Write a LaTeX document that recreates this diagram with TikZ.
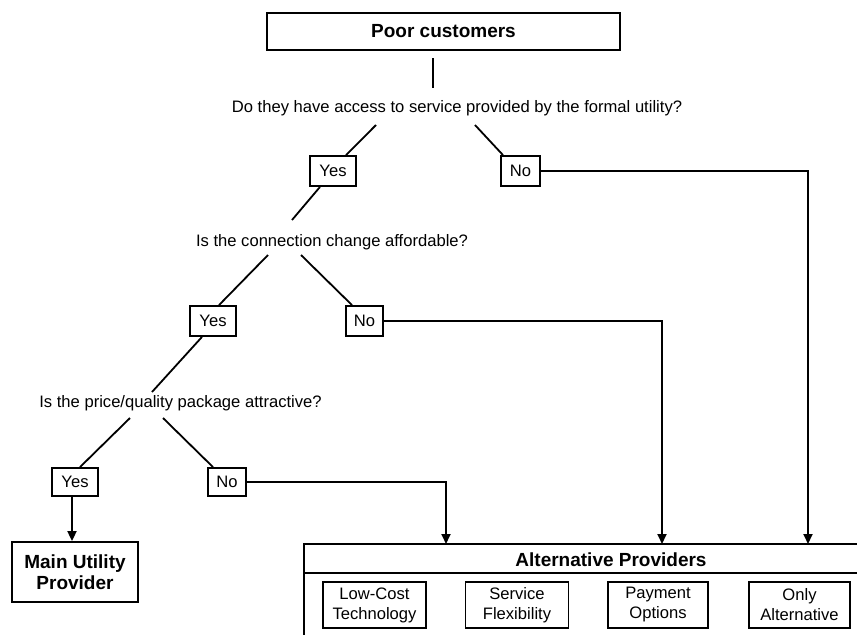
\documentclass[tikz,border=0pt]{standalone}
\usepackage{fontspec}
\setmainfont{Liberation Sans}
\usetikzlibrary{arrows.meta}
\tikzset{
  every path/.style={line width=1.8pt},
  txt/.style={inner sep=0pt, font=\fontsize{16.6}{20.5}\selectfont},
  btxt/.style={inner sep=0pt, font=\bfseries\fontsize{19}{21}\selectfont, align=center},
  answer/.style={draw, line width=1.8pt, inner sep=0pt, minimum height=30pt,
                 font=\fontsize{16.6}{20.5}\selectfont},
  subbox/.style={draw, line width=1.8pt, inner sep=0pt, minimum width=103pt,
                 minimum height=46pt, align=center, font=\fontsize{16.6}{20}\selectfont},
  arr/.style={-{Triangle[length=10pt,width=9pt]}},
}
\begin{document}
\begin{tikzpicture}[x=1pt,y=-1pt]
\useasboundingbox (0,0) rectangle (857,635);

% top box and the three questions
\node[draw, line width=1.8pt, minimum width=353pt, minimum height=37pt, btxt] (poor) at (443.5,31.5) {Poor customers};
\node[txt] (q1) at (457,108) {Do they have access to service provided by the formal utility?};
\node[txt] (q2) at (332,242) {Is the connection change affordable?};
\node[txt] (q3) at (180.5,403) {Is the price/quality package attractive?};

% answers
\node[answer, minimum width=46pt] (yes1) at (333,171) {Yes};
\node[answer, minimum width=39pt] (no1) at (520.5,171) {No};
\node[answer, minimum width=46pt] (yes2) at (213,321) {Yes};
\node[answer, minimum width=37pt] (no2) at (364.5,321) {No};
\node[answer, minimum width=46pt, minimum height=28pt] (yes3) at (75,482) {Yes};
\node[answer, minimum width=38pt, minimum height=28pt] (no3) at (227,482) {No};

% main utility provider
\node[draw, line width=1.8pt, minimum width=126pt, minimum height=60pt, btxt] (main) at (75,572) {Main Utility\\Provider};

% alternative providers panel
\coordinate (altTL) at (304,544);
\coordinate (altTR) at (857,544);
\coordinate (altBL) at (304,635);
\coordinate (altDL) at (304,573);
\coordinate (altDR) at (857,573);
\draw (altTR) -- (altTL) -- (altBL);
\draw (altDL) -- (altDR);
\node[btxt] (alt) at (611,560) {Alternative Providers};
\node[subbox] (s1) at (374.5,605) {Low-Cost\\Technology};
\node[subbox] (s2) at (517,605) {Service\\Flexibility};
\node[subbox, minimum width=100pt] (s3) at (658,605) {Payment\\Options};
\node[subbox, minimum width=101pt] (s4) at (799.5,605) {Only\\Alternative};

% entry points on the panel
\coordinate (inA) at (446,544);
\coordinate (inB) at (662,544);
\coordinate (inC) at (808,544);

% free ends of the branch lines
\coordinate (p0a) at (433,58);
\coordinate (p0b) at (433,88);
\coordinate (q1L) at (376,125);
\coordinate (q1R) at (475,125);
\coordinate (q2T) at (292,220);
\coordinate (q2L) at (268,255);
\coordinate (q2R) at (301,255);
\coordinate (q3T) at (152,392);
\coordinate (q3L) at (130,418);
\coordinate (q3R) at (163,418);

% connectors
\draw (p0a) -- (p0b);
\draw (q1L) -- ([xshift=13pt]yes1.north);
\draw (q1R) -- ([xshift=-17.5pt]no1.north);
\draw ([xshift=-13pt]yes1.south) -- (q2T);
\draw (q2L) -- ([xshift=6pt]yes2.north);
\draw (q2R) -- ([xshift=-12.5pt]no2.north);
\draw ([xshift=-11pt]yes2.south) -- (q3T);
\draw (q3L) -- ([xshift=5pt]yes3.north);
\draw (q3R) -- ([xshift=-14pt]no3.north);

\draw[arr] ([xshift=-3pt]yes3.south) -- ([xshift=-3pt]main.north);
\draw[arr] (no1.east) -| (inC);
\draw[arr] (no2.east) -| (inB);
\draw[arr] (no3.east) -| (inA);
\end{tikzpicture}
\end{document}
